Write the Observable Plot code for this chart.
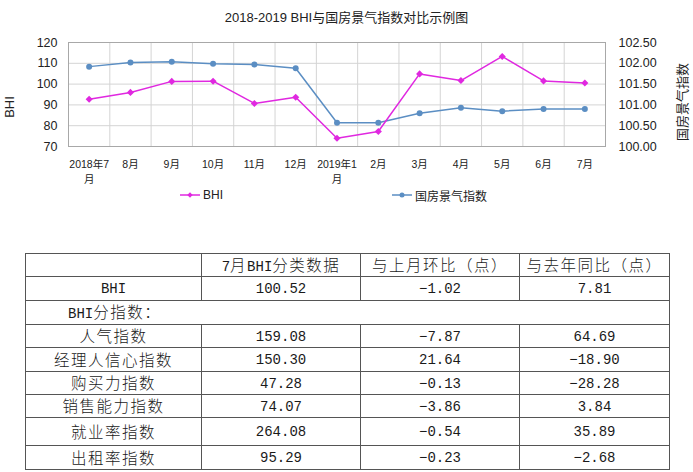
<!DOCTYPE html>
<html><head><meta charset="utf-8">
<script src="https://cdn.jsdelivr.net/npm/d3@7"></script>
<script src="https://cdn.jsdelivr.net/npm/@observablehq/plot@0.6"></script>
<style>
html,body{margin:0;padding:0;background:#fff;}
body{width:693px;height:472px;position:relative;overflow:hidden;font-family:"Liberation Sans","Noto Sans CJK SC",sans-serif;color:#222;}
#title{position:absolute;left:0;top:9px;width:693px;text-align:center;font-size:13px;line-height:18px;}
#chart{position:absolute;left:0;top:30px;}
.ylab{position:absolute;font-size:13px;white-space:nowrap;line-height:14px;transform:translate(-50%,-50%) rotate(-90deg);}
.lg{position:absolute;top:186px;height:18px;display:flex;align-items:center;font-size:12px;}
.lg svg{margin-right:3px;}
table{position:absolute;left:25px;top:253px;border-collapse:collapse;table-layout:fixed;width:644px;}
td{border:1px solid #555;padding:0;text-align:center;vertical-align:middle;white-space:nowrap;overflow:hidden;color:#1a1a1a;line-height:18px;}
td.sub{text-align:left;padding-left:42px;}
.cjk{font-family:"Noto Sans CJK SC",sans-serif;font-size:15.5px;letter-spacing:1.5px;font-weight:300;}
.lat{font-family:"Liberation Mono",monospace;font-size:14px;}
</style></head>
<body>
<div id="title"></div>
<div id="chart"></div>
<div class="ylab" id="ylabL" style="left:10px;top:107px;"></div>
<div class="ylab" id="ylabR" style="left:683px;top:102px;"></div>
<div class="lg" id="lg1" style="left:180px;"></div>
<div class="lg" id="lg2" style="left:392px;"></div>
<table id="tbl"></table>
<script>
// ---- data ----
const titleText = "2018-2019 BHI与国房景气指数对比示例图";
const months = ["2018年7月","8月","9月","10月","11月","12月","2019年1月","2月","3月","4月","5月","6月","7月"];
const monthLabels = ["2018年7\n月","8月","9月","10月","11月","12月","2019年1\n月","2月","3月","4月","5月","6月","7月"];
const bhi = [92.71, 96.0, 101.3, 101.4, 90.7, 93.7, 74.0, 77.2, 104.9, 101.7, 113.3, 101.54, 100.52];
const gfjq = [101.92, 102.02, 102.04, 101.99, 101.97, 101.88, 100.57, 100.57, 100.80, 100.93, 100.85, 100.90, 100.90];
const leftTicks = [70, 80, 90, 100, 110, 120];
const rightTicks = [100.00, 100.50, 101.00, 101.50, 102.00, 102.50];
const seriesNames = ["BHI", "国房景气指数"];
const leftLabel = "BHI";
const rightLabel = "国房景气指数";

const tableHeader = ["", "7月BHI分类数据", "与上月环比（点）", "与去年同比（点）"];
const subHeader = "BHI分指数：";
const rowNames = ["BHI", "人气指数", "经理人信心指数", "购买力指数", "销售能力指数", "就业率指数", "出租率指数"];
const current = [100.52, 159.08, 150.30, 47.28, 74.07, 264.08, 95.29];
const mom = [-1.02, -7.87, 21.64, -0.13, -3.86, -0.54, -0.23];
const yoy = [7.81, 64.69, -18.90, -28.28, 3.84, 35.89, -2.68];

// ---- styles ----
const cBHI = "#e028e0";
const cGF = "#5b8ec3";

document.getElementById("title").textContent = titleText;
document.getElementById("ylabL").textContent = leftLabel;
document.getElementById("ylabR").textContent = rightLabel;

const toLeft = d3.scaleLinear().domain([rightTicks[0], rightTicks[rightTicks.length-1]]).range([leftTicks[0], leftTicks[leftTicks.length-1]]);
const idx = months.map((_, i) => i);
const bhiData = months.map((m, i) => ({i, v: bhi[i]}));
const gfData = months.map((m, i) => ({i, v: toLeft(gfjq[i])}));
const bounds = months.slice(0, -1).map((_, i) => i + 0.5);

const chart = Plot.plot({
  width: 693, height: 156,
  marginLeft: 68, marginRight: 88, marginTop: 12, marginBottom: 40,
  style: {fontFamily: "'Liberation Sans','Noto Sans CJK SC',sans-serif", fontSize: "10.5px", background: "transparent", color: "#222", overflow: "visible"},
  x: {domain: [-0.5, months.length - 0.5], axis: null},
  y: {domain: [leftTicks[0], leftTicks[leftTicks.length-1]], axis: null},
  marks: [
    Plot.ruleY(leftTicks.slice(1, -1), {stroke: "#d4d4d4", strokeWidth: 1}),
    Plot.ruleX(bounds, {stroke: "#d4d4d4", strokeWidth: 1}),
    Plot.frame({stroke: "#a8a8a8"}),
    Plot.axisY({anchor: "left", ticks: leftTicks, tickSize: 0, tickPadding: 11, fontSize: 12.5, label: null}),
    Plot.axisY({anchor: "right", ticks: leftTicks, tickSize: 0, tickPadding: 13, fontSize: 12.5, label: null,
      tickFormat: d => toLeft.invert(d).toFixed(2)}),
    Plot.axisX({ticks: idx, tickSize: 0, tickPadding: 10, fontSize: 10.5, lineHeight: 1.5, label: null,
      tickFormat: i => monthLabels[i]}),
    Plot.line(gfData, {x: "i", y: "v", stroke: cGF, strokeWidth: 1.5}),
    Plot.dot(gfData, {x: "i", y: "v", fill: cGF, r: 3}),
    Plot.line(bhiData, {x: "i", y: "v", stroke: cBHI, strokeWidth: 1.5}),
    Plot.dot(bhiData, {x: "i", y: "v", fill: cBHI, r: 3.2, symbol: "diamond2"})
  ]
});
document.getElementById("chart").appendChild(chart);

// legend
function swatch(color, sym) {
  const m = sym === "diamond"
    ? `<path d="M10 2.3 L12.7 5 L10 7.7 L7.3 5 Z" fill="${color}"/>`
    : `<circle cx="10" cy="5" r="2.5" fill="${color}"/>`;
  return `<svg width="20" height="10"><line x1="0" y1="5" x2="20" y2="5" stroke="${color}" stroke-width="1.5"/>${m}</svg>`;
}
document.getElementById("lg1").innerHTML = swatch(cBHI, "diamond") + `<span>${seriesNames[0]}</span>`;
document.getElementById("lg2").innerHTML = swatch(cGF, "circle") + `<span>${seriesNames[1]}</span>`;

// table
function runs(s) {
  return s.split(/([\u3000-\u9fff\uff00-\uffef]+)/).filter(t => t.length)
    .map(t => /[\u3000-\u9fff\uff00-\uffef]/.test(t) ? `<span class="cjk">${t}</span>` : `<span class="lat">${t}</span>`).join("");
}
const fmt = d3.format(".2f");
const colW = [176, 159, 159, 150];
const rowH = [23, 24, 24, 23, 24, 23, 23, 28, 24];
let html = "<colgroup>" + colW.map(w => `<col style="width:${w}px">`).join("") + "</colgroup>";
html += `<tr style="height:${rowH[0]}px">` + tableHeader.map(h => `<td>${runs(h)}</td>`).join("") + "</tr>";
const dataRow = (k, h) => `<tr style="height:${h}px"><td>${runs(rowNames[k])}</td><td>${runs(fmt(current[k]))}</td><td>${runs(fmt(mom[k]))}</td><td>${runs(fmt(yoy[k]))}</td></tr>`;
html += dataRow(0, rowH[1]);
html += `<tr style="height:${rowH[2]}px"><td class="sub" colspan="4">${runs(subHeader)}</td></tr>`;
for (let k = 1; k < rowNames.length; k++) html += dataRow(k, rowH[k + 2]);
document.getElementById("tbl").innerHTML = html;
</script>
</body></html>
